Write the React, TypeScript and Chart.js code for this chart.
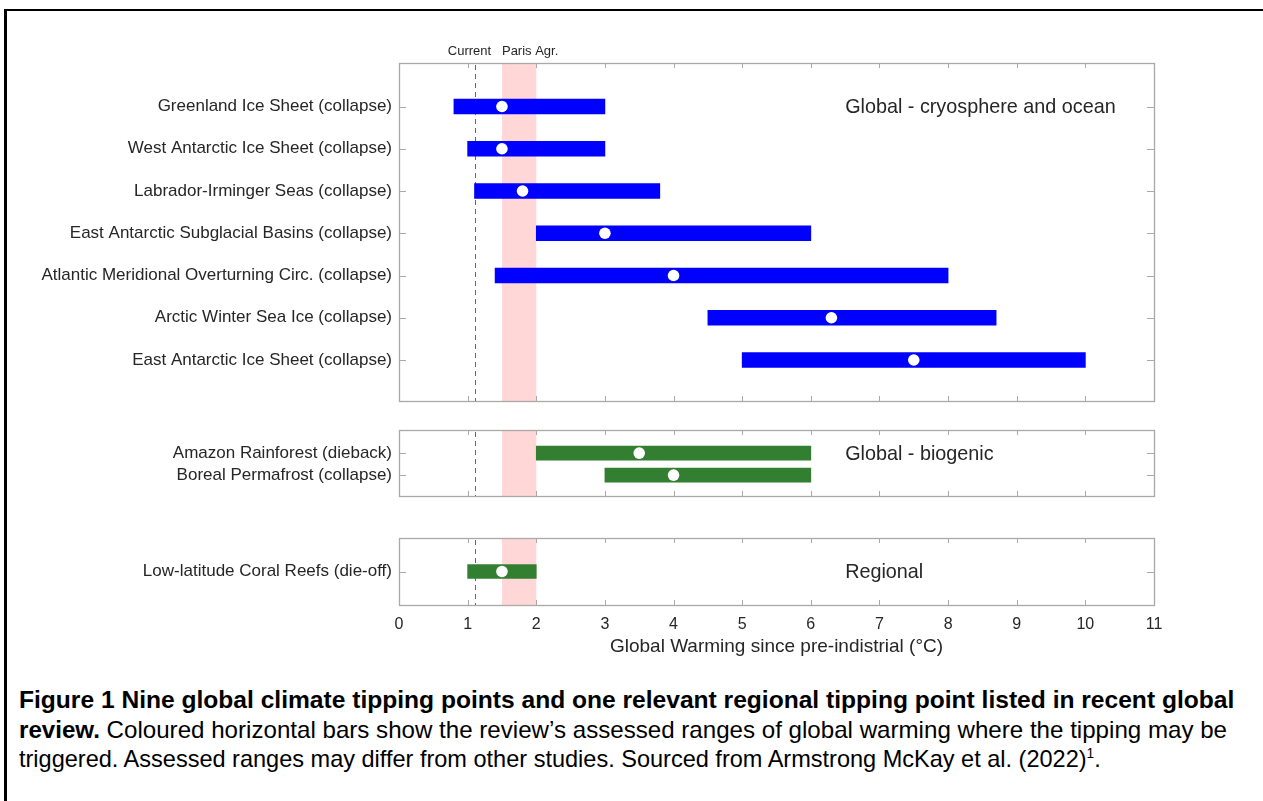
import React, { useEffect, useRef } from 'react';
import { Chart, registerables } from 'chart.js';

Chart.register(...registerables);

const FONT = '"Liberation Sans", Arial, sans-serif';
Chart.defaults.font.family = FONT;

// ---- data ----
const cryoLabels = [
  'Greenland Ice Sheet (collapse)',
  'West Antarctic Ice Sheet (collapse)',
  'Labrador-Irminger Seas (collapse)',
  'East Antarctic Subglacial Basins (collapse)',
  'Atlantic Meridional Overturning Circ. (collapse)',
  'Arctic Winter Sea Ice (collapse)',
  'East Antarctic Ice Sheet (collapse)',
];
const cryoLow = [0.8, 1.0, 1.1, 2.0, 1.4, 4.5, 5.0];
const cryoHigh = [3.0, 3.0, 3.8, 6.0, 8.0, 8.7, 10.0];
const cryoCentral = [1.5, 1.5, 1.8, 3.0, 4.0, 6.3, 7.5];

const bioLabels = ['Amazon Rainforest (dieback)', 'Boreal Permafrost (collapse)'];
const bioLow = [2.0, 3.0];
const bioHigh = [6.0, 6.0];
const bioCentral = [3.5, 4.0];

const regLabels = ['Low-latitude Coral Reefs (die-off)'];
const regLow = [1.0];
const regHigh = [2.0];
const regCentral = [1.5];

const xMin = 0;
const xMax = 11;
const currentWarming = 1.1;
const parisRange = [1.5, 2.0];
const panelTitles = ['Global - cryosphere and ocean', 'Global - biogenic', 'Regional'];
const xTitle = 'Global Warming since pre-indistrial (\u00B0C)';
const panelTitleAt = 6.5;

const TEXT = '#262626';
const FRAME = '#a9a9a9';

type Panel = {
  labels: string[];
  low: number[];
  high: number[];
  central: number[];
  color: string;
  title: string;
  top: number;
  height: number;
  padTop: number;
  padBottom: number;
  showX: boolean;
  refLabels: boolean;
  barThickness: number;
  yShift: number;
};

const panels: Panel[] = [
  { labels: cryoLabels, low: cryoLow, high: cryoHigh, central: cryoCentral, color: '#0000ff', title: panelTitles[0], top: 30, height: 380, padTop: 33, padBottom: 9, showX: false, refLabels: true, barThickness: 15, yShift: 0.03 },
  { labels: bioLabels, low: bioLow, high: bioHigh, central: bioCentral, color: '#327f32', title: panelTitles[1], top: 415, height: 95, padTop: 15, padBottom: 14, showX: false, refLabels: false, barThickness: 14, yShift: 0.05 },
  { labels: regLabels, low: regLow, high: regHigh, central: regCentral, color: '#327f32', title: panelTitles[2], top: 520, height: 150, padTop: 18, padBottom: 0, showX: true, refLabels: false, barThickness: 14, yShift: 0 },
];

function makeDecor(p: Panel) {
  return {
    id: 'decor',
    beforeDatasetsDraw(chart: any) {
      const { ctx, chartArea: a, scales } = chart;
      const x = scales.x;
      ctx.save();
      const p0 = x.getPixelForValue(parisRange[0]);
      const p1 = x.getPixelForValue(parisRange[1]);
      ctx.fillStyle = '#ffd7d7';
      ctx.fillRect(p0, a.top, p1 - p0, a.bottom - a.top);
      const cx = Math.round(x.getPixelForValue(currentWarming)) + 0.5;
      ctx.strokeStyle = '#666666';
      ctx.lineWidth = 1;
      ctx.setLineDash([5, 4]);
      ctx.beginPath();
      ctx.moveTo(cx, a.top + 2);
      ctx.lineTo(cx, a.bottom);
      ctx.stroke();
      ctx.restore();
    },
    afterDatasetsDraw(chart: any) {
      const { ctx, chartArea: a, scales } = chart;
      const x = scales.x;
      const y = scales.y;
      ctx.save();
      ctx.strokeStyle = FRAME;
      ctx.lineWidth = 1.3;
      ctx.strokeRect(Math.round(a.left) + 0.5, Math.round(a.top) + 0.5, Math.round(a.right - a.left), Math.round(a.bottom - a.top));
      ctx.lineWidth = 1;
      ctx.beginPath();
      for (let v = xMin + 1; v < xMax; v++) {
        const px = Math.round(x.getPixelForValue(v)) + 0.5;
        ctx.moveTo(px, a.top);
        ctx.lineTo(px, a.top + 5);
        ctx.moveTo(px, a.bottom);
        ctx.lineTo(px, a.bottom - 5);
      }
      p.labels.forEach((_, i) => {
        const py = Math.round(y.getPixelForValue(i + 1)) + 0.5;
        ctx.moveTo(a.left, py);
        ctx.lineTo(a.left + 7, py);
        ctx.moveTo(a.right, py);
        ctx.lineTo(a.right - 7, py);
      });
      ctx.stroke();

      ctx.fillStyle = TEXT;
      ctx.textBaseline = 'middle';
      ctx.textAlign = 'left';
      ctx.font = `19.8px ${FONT}`;
      ctx.fillText(p.title, x.getPixelForValue(panelTitleAt), y.getPixelForValue(1) + 1);

      if (p.refLabels) {
        ctx.font = `13px ${FONT}`;
        ctx.textAlign = 'center';
        ctx.fillText('Current', x.getPixelForValue(currentWarming) - 5, a.top - 12);
        ctx.textAlign = 'left';
        ctx.fillText('Paris Agr.', x.getPixelForValue(parisRange[0]), a.top - 12);
      }
      ctx.restore();
    },
  };
}

function PanelChart({ p }: { p: Panel }) {
  const ref = useRef<HTMLCanvasElement>(null);
  useEffect(() => {
    if (!ref.current) return;
    const chart = new Chart(ref.current, {
      type: 'bar',
      data: {
        datasets: [
          {
            type: 'scatter',
            data: p.central.map((c, i) => ({ x: c, y: i + 1 })),
            pointRadius: 5.8,
            pointHoverRadius: 5.8,
            backgroundColor: '#ffffff',
            borderWidth: 0,
            order: 0,
            xAxisID: 'x',
            yAxisID: 'y',
          } as any,
          {
            type: 'bar',
            indexAxis: 'y',
            data: p.low.map((l, i) => ({ x: [l, p.high[i]], y: i + 1 })),
            backgroundColor: p.color,
            borderWidth: 0,
            barThickness: p.barThickness,
            order: 1,
            xAxisID: 'x',
            yAxisID: 'y',
          } as any,
        ],
      },
      options: {
        responsive: false,
        animation: false,
        layout: { autoPadding: false, padding: { left: 0, right: 1263 - 1154, top: p.padTop, bottom: p.padBottom } },
        plugins: { legend: { display: false }, tooltip: { enabled: false } },
        scales: {
          x: {
            type: 'linear',
            position: 'bottom',
            offset: false,
            min: xMin,
            max: xMax,
            display: p.showX,
            grid: { display: false, drawTicks: false, offset: false },
            border: { display: false },
            ticks: { display: p.showX, stepSize: 1, color: TEXT, font: { size: 16 }, padding: 10 },
            title: { display: p.showX, text: xTitle, color: TEXT, font: { size: 19 }, padding: { top: 0, bottom: 12 } },
            afterFit: (s: any) => {
              s.height = p.showX ? 65 : 0;
              s.paddingLeft = 0;
              s.paddingRight = 0;
            },
          },
          y: {
            type: 'linear',
            position: 'left',
            offset: false,
            reverse: true,
            min: 0 - p.yShift,
            max: p.labels.length + 1 - p.yShift,
            grid: { display: false, drawTicks: false, offset: false },
            border: { display: false },
            afterBuildTicks: (s: any) => { s.ticks = p.labels.map((_, i) => ({ value: i + 1 })); },
            ticks: {
              color: TEXT,
              font: { size: 17 },
              padding: 7,
              callback: (v: any) => p.labels[Math.round(Number(v)) - 1] ?? '',
            },
            afterFit: (s: any) => {
              s.width = 399;
              s.paddingTop = 0;
              s.paddingBottom = 0;
            },
          },
        },
      } as any,
      plugins: [makeDecor(p)],
    });
    return () => chart.destroy();
  }, [p]);
  return (
    <canvas
      ref={ref}
      width={1263}
      height={p.height}
      style={{ position: 'absolute', left: 0, top: p.top, width: 1263, height: p.height }}
    />
  );
}

const captionStyle: React.CSSProperties = {
  position: 'absolute',
  left: 19,
  whiteSpace: 'nowrap',
  fontFamily: FONT,
  fontSize: 24,
  lineHeight: '29.5px',
  color: '#000',
  transformOrigin: 'left center',
};

export default function App() {
  return (
    <div style={{ position: 'fixed', left: 0, top: 0, width: 1263, height: 801, overflow: 'hidden', background: '#fff' }}>
      <div style={{ position: 'absolute', left: 4, top: 9, width: 1400, height: 1000, borderLeft: '3px solid #000', borderTop: '2px solid #000' }} />
      {panels.map((p, i) => (
        <PanelChart key={i} p={p} />
      ))}
      <div style={{ ...captionStyle, top: 685, fontWeight: 'bold', transform: 'scaleX(1.024)' }}>
        Figure 1 Nine global climate tipping points and one relevant regional tipping point listed in recent global
      </div>
      <div style={{ ...captionStyle, top: 715, transform: 'scaleX(1.005)' }}>
        <b>review.</b> Coloured horizontal bars show the review’s assessed ranges of global warming where the tipping may be
      </div>
      <div style={{ ...captionStyle, top: 744, transform: 'scaleX(0.98)' }}>
        triggered. Assessed ranges may differ from other studies. Sourced from Armstrong McKay et al. (2022)
        <sup style={{ fontSize: 14, lineHeight: 0 }}>1</sup>.
      </div>
    </div>
  );
}
